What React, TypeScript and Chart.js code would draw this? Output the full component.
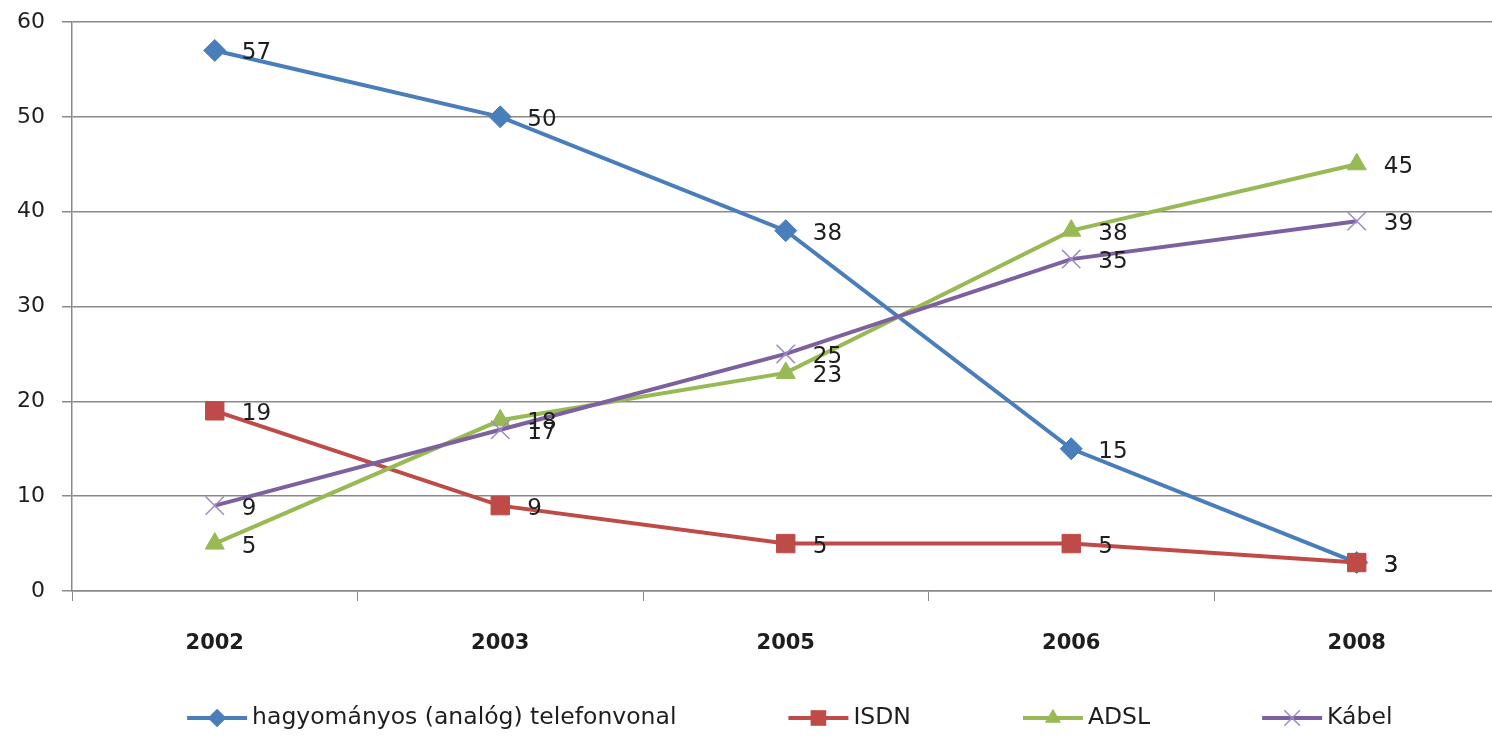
import React, { useEffect, useRef } from "react";
import { Chart, registerables } from "chart.js";

Chart.register(...registerables);

const categories = ["2002", "2003", "2005", "2006", "2008"];
const seriesNames = ["hagyományos (analóg) telefonvonal", "ISDN", "ADSL", "Kábel"];
const analog = [57, 50, 38, 15, 3];
const isdn = [19, 9, 5, 5, 3];
const adsl = [5, 18, 23, 38, 45];
const kabel = [9, 17, 25, 35, 39];
const yTicks = [0, 10, 20, 30, 40, 50, 60];

const colors = ["#4a7ebb", "#be4b48", "#98b954", "#7d60a0"];
const pointStyles = ["rectRot", "rect", "triangle", "crossRot"];
const pointRadii = [11, 13, 11, 13];

const FONT = "'DejaVu Sans', 'Noto Sans', sans-serif";
const TEXT = "#1e1e1e";
const GRID = "#8a8a8a";
const CANVAS_W = 1514;
const CANVAS_H = 736;

function drawMarker(ctx: CanvasRenderingContext2D, style: string, x: number, y: number, r: number, color: string) {
  ctx.save();
  ctx.fillStyle = color;
  ctx.strokeStyle = color;
  ctx.beginPath();
  if (style === "rectRot") {
    ctx.moveTo(x, y - r);
    ctx.lineTo(x + r, y);
    ctx.lineTo(x, y + r);
    ctx.lineTo(x - r, y);
    ctx.closePath();
    ctx.fill();
  } else if (style === "rect") {
    const s = r * Math.SQRT1_2;
    ctx.rect(x - s, y - s, 2 * s, 2 * s);
    ctx.fill();
  } else if (style === "triangle") {
    for (let i = 0; i < 3; i++) {
      const a = (i * 2 * Math.PI) / 3;
      const px = x + Math.sin(a) * r;
      const py = y - Math.cos(a) * r;
      if (i === 0) ctx.moveTo(px, py);
      else ctx.lineTo(px, py);
    }
    ctx.closePath();
    ctx.fill();
  } else {
    const o = r * Math.SQRT1_2;
    ctx.lineWidth = 1.5;
    ctx.strokeStyle = "#9d8cc4";
    ctx.moveTo(x - o, y - o);
    ctx.lineTo(x + o, y + o);
    ctx.moveTo(x - o, y + o);
    ctx.lineTo(x + o, y - o);
    ctx.stroke();
  }
  ctx.restore();
}

const valueLabels = {
  id: "valueLabels",
  afterDatasetsDraw(chart: any) {
    const ctx = chart.ctx as CanvasRenderingContext2D;
    ctx.save();
    ctx.font = `23px ${FONT}`;
    ctx.fillStyle = TEXT;
    ctx.textAlign = "left";
    ctx.textBaseline = "middle";
    chart.data.datasets.forEach((ds: any, i: number) => {
      const meta = chart.getDatasetMeta(i);
      meta.data.forEach((pt: any, j: number) => {
        ctx.fillText(String(ds.data[j]), pt.x + 27, pt.y + 3);
      });
    });
    ctx.restore();
  },
};

const lineLegend = {
  id: "lineLegend",
  afterDraw(chart: any) {
    const ctx = chart.ctx as CanvasRenderingContext2D;
    const area = chart.chartArea;
    ctx.save();
    ctx.font = `23.5px ${FONT}`;
    const lineLen = 60;
    const textGap = 5;
    const itemGap = 112;
    const items = chart.data.datasets.map((ds: any) => ({
      ds,
      w: lineLen + textGap + ctx.measureText(ds.label).width,
    }));
    const total = items.reduce((s: number, it: any) => s + it.w, 0) + itemGap * (items.length - 1);
    let x = (area.left + area.right) / 2 + 4 - total / 2;
    const y = 718;
    items.forEach((it: any) => {
      const ds = it.ds;
      ctx.strokeStyle = ds.borderColor;
      ctx.lineWidth = 4;
      ctx.beginPath();
      ctx.moveTo(x, y);
      ctx.lineTo(x + lineLen, y);
      ctx.stroke();
      drawMarker(ctx, ds.pointStyle, x + lineLen / 2, y, ds.pointRadius * 0.85, ds.borderColor);
      ctx.fillStyle = TEXT;
      ctx.textAlign = "left";
      ctx.textBaseline = "middle";
      ctx.fillText(ds.label, x + lineLen + textGap, y);
      x += it.w + itemGap;
    });
    ctx.restore();
  },
};

export default function App() {
  const ref = useRef<HTMLCanvasElement | null>(null);

  useEffect(() => {
    if (!ref.current) return;
    const seriesData = [analog, isdn, adsl, kabel];
    const chart = new Chart(ref.current, {
      type: "line",
      data: {
        labels: categories,
        datasets: seriesData.map((d, i) => ({
          label: seriesNames[i],
          data: d,
          borderColor: colors[i],
          backgroundColor: colors[i],
          pointBackgroundColor: colors[i],
          pointBorderColor: i === 3 ? "#9d8cc4" : colors[i],
          pointBorderWidth: i === 3 ? 1.5 : 1,
          borderWidth: 4,
          pointStyle: pointStyles[i] as any,
          pointRadius: pointRadii[i],
          tension: 0,
          order: 4 - i,
        })),
      },
      options: {
        responsive: false,
        animation: false,
        layout: { padding: { top: 22, right: 1, bottom: 75, left: 0 } },
        plugins: {
          legend: { display: false },
          tooltip: { enabled: false },
        },
        scales: {
          x: {
            type: "category",
            offset: true,
            grid: {
              display: true,
              offset: true,
              drawOnChartArea: false,
              drawTicks: true,
              tickLength: 10,
              color: GRID,
            },
            border: { display: true, color: GRID, width: 1.5 },
            ticks: {
              color: TEXT,
              font: { family: FONT, size: 21, weight: "bold" },
              padding: 30,
              maxRotation: 0,
            },
            afterFit(scale: any) {
              scale.height = 70;
              scale.paddingLeft = 0;
              scale.paddingRight = 0;
            },
          },
          y: {
            min: 0,
            max: 60,
            afterBuildTicks(scale: any) {
              scale.ticks = yTicks.map((v) => ({ value: v }));
            },
            grid: {
              color: GRID,
              lineWidth: 1.5,
              tickLength: 10,
              drawTicks: true,
            },
            border: { display: true, color: GRID, width: 1.5 },
            ticks: {
              color: TEXT,
              font: { family: FONT, size: 22 },
              padding: 17,
            },
            afterFit(scale: any) {
              scale.width = 72;
              scale.paddingTop = 0;
              scale.paddingBottom = 0;
            },
          },
        },
      },
      plugins: [valueLabels, lineLegend],
    });
    return () => chart.destroy();
  }, []);

  return (
    <div
      style={{
        position: "fixed",
        left: 0,
        top: 0,
        width: CANVAS_W,
        height: CANVAS_H,
        background: "#ffffff",
        overflow: "hidden",
      }}
    >
      <canvas
        ref={ref}
        width={CANVAS_W}
        height={CANVAS_H}
        style={{ width: CANVAS_W, height: CANVAS_H, display: "block" }}
      />
    </div>
  );
}
